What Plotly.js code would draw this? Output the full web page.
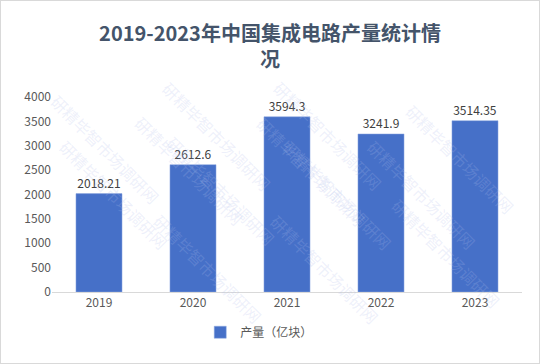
<!DOCTYPE html>
<html><head><meta charset="utf-8">
<script src="https://cdn.plot.ly/plotly-3.0.1.min.js"></script>
<style>html,body{margin:0;padding:0;background:#fff}#c{width:538px;height:362px;border:1px solid #d9d9d9}</style>
</head><body><div id="c"></div>
<script>
const years = ['2019','2020','2021','2022','2023'];
const output = [2018.21, 2612.6, 3594.3, 3241.9, 3514.35];
const labels = ['2018.21','2612.6','3594.3','3241.9','3514.35'];
const seriesName = '产量（亿块）';
const titleText = '2019-2023年中国集成电路产量统计情<br>况';
const watermark = '研精毕智市场调研网';

const font = '"Noto Sans CJK SC", "Noto Sans", sans-serif';
const wmPos = [[-0.02,1.05],[0.35,1.12],[0.72,1.12],[1.0,1.0],[0.16,0.62],[0.55,0.62],[0.92,0.5],[0.0,0.18],[0.36,0.2],[0.74,0.18],[0.2,-0.2],[0.58,-0.2],[0.97,-0.12]];
const annotations = wmPos.map(p => ({xref:'paper',yref:'paper',x:p[0],y:p[1],text:watermark,showarrow:false,textangle:45,
  font:{family:font,size:16,color:'rgba(175,190,235,0.22)'}}));

Plotly.newPlot('c', [{
  type:'bar', x:years, y:output, name:seriesName, text:labels, textposition:'outside',
  textfont:{family:font,size:12,color:'#404040'}, cliponaxis:false,
  marker:{color:'#4670c8', line:{color:'#8fa8e0',width:0.5}},
  hoverinfo:'none'
}], {
  width:538, height:362, paper_bgcolor:'#fff', plot_bgcolor:'#fff',
  margin:{l:51,r:17,t:96,b:71},
  title:{text:titleText, x:0.5, xanchor:'center', y:0.89, yanchor:'top', yref:'container',
    font:{family:font,size:20,color:'#44546a',weight:'bold'}},
  bargap:0.51,
  xaxis:{showgrid:false, showline:true, linecolor:'#d9d9d9', linewidth:1, ticks:'',
    tickfont:{family:font,size:12,color:'#595959'}},
  yaxis:{range:[0,4000], dtick:500, showgrid:false, zeroline:false, showline:false, ticks:'',
    tickfont:{family:font,size:12,color:'#595959'}},
  showlegend:true,
  legend:{orientation:'h', x:0.48, xanchor:'center', xref:'container', y:0.085, yref:'container', yanchor:'middle',
    font:{family:font,size:12,color:'#595959'}, itemwidth:30},
  annotations:annotations
}, {displayModeBar:false, staticPlot:true});
</script></body></html>
